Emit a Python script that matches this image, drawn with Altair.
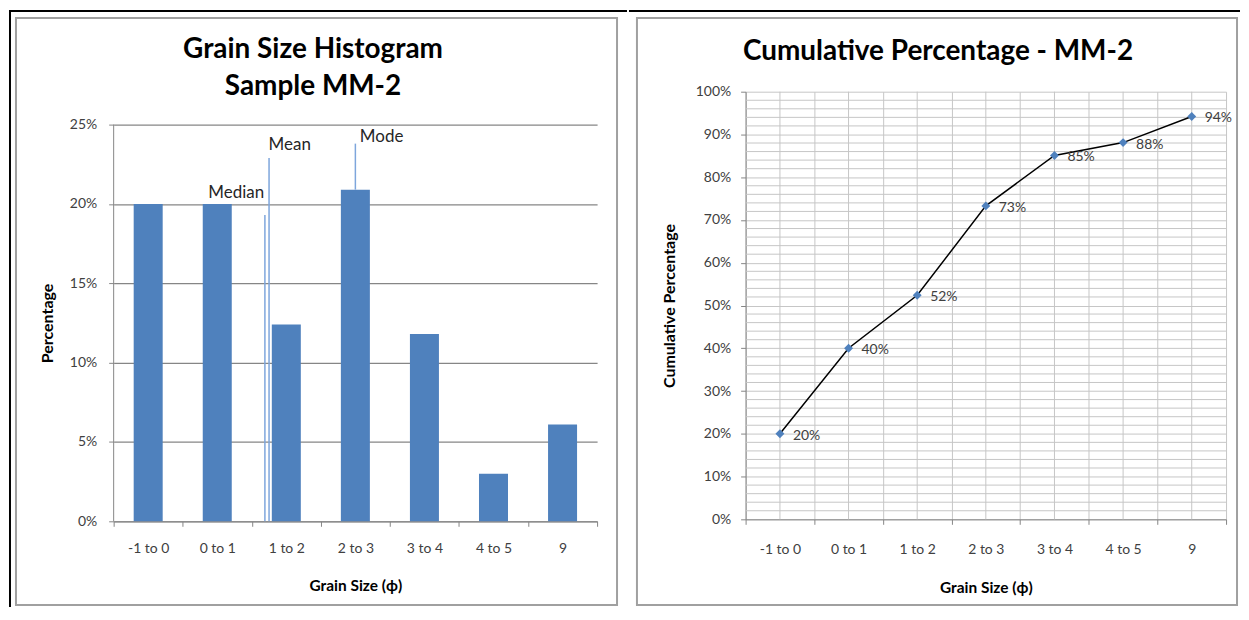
import altair as alt
import pandas as pd

# ---------------- data ----------------
categories = ["-1 to 0", "0 to 1", "1 to 2", "2 to 3", "3 to 4", "4 to 5", "9"]
percent = [0.200, 0.200, 0.124, 0.209, 0.118, 0.030, 0.061]
cumulative = [0.200, 0.400, 0.524, 0.733, 0.851, 0.881, 0.942]

ann_names = ["Median", "Mean", "Mode"]
ann_pos = [1.69, 1.75, 3.0]          # position in category-index units
ann_low = [0.0, 0.0, 0.209]
ann_high = [0.193, 0.229, 0.238]
ann_label_x = [1.275, 2.05, 3.38]
ann_label_y = [0.207, 0.237, 0.242]

left_ticks = [0.0, 0.05, 0.10, 0.15, 0.20, 0.25]
right_ticks = [0.0, 0.1, 0.2, 0.3, 0.4, 0.5, 0.6, 0.7, 0.8, 0.9, 1.0]
right_minor = [0.02, 0.04, 0.06, 0.08, 0.12, 0.14, 0.16, 0.18, 0.22, 0.24, 0.26, 0.28,
               0.32, 0.34, 0.36, 0.38, 0.42, 0.44, 0.46, 0.48, 0.52, 0.54, 0.56, 0.58,
               0.62, 0.64, 0.66, 0.68, 0.72, 0.74, 0.76, 0.78, 0.82, 0.84, 0.86, 0.88,
               0.92, 0.94, 0.96, 0.98]

left_title = ["Grain Size Histogram", "Sample MM-2"]
right_title = "Cumulative Percentage - MM-2"
x_title = "Grain Size (ϕ)"

# ---------------- tables ----------------
hist_df = pd.DataFrame({"cat": categories, "pct": percent})
cum_df = pd.DataFrame({"cat": categories, "cum": cumulative})
ann_df = pd.DataFrame({"name": ann_names, "pos": ann_pos, "low": ann_low, "high": ann_high,
                       "lx": ann_label_x, "ly": ann_label_y})
minor_df = pd.DataFrame({"v": right_minor})
axis_df = pd.DataFrame({"lo": [left_ticks[0]], "hi": [left_ticks[-1]]})
one = pd.DataFrame({"a": [0]})

FONT = "Lato"
BLUE = "#4f81bd"
TXT = "#404040"
AX = "#868686"

LW, LH = 485, 431      # left plot: top of area sits above the 25% line
RW, RH = 482, 429
LTOP = 0.25 * LH / 398  # y-domain max so that 25% lies 398px above the base

# ---------------- left chart ----------------
yscale_l = alt.Scale(domain=[0, LTOP], nice=False)
xband_left = alt.X("cat:N", sort=categories, title=x_title,
                   scale=alt.Scale(type="band", paddingInner=0, paddingOuter=0),
                   axis=alt.Axis(labelAngle=0, tickBand="extent", grid=False, domainColor=AX,
                                 tickColor=AX, tickSize=5, labelPadding=15, labelFont=FONT,
                                 labelFontSize=14, labelColor=TXT, titleFont=FONT,
                                 titleFontSize=15.5, titleFontWeight="bold", titleColor="#000000",
                                 titleY=64, titleBaseline="middle"))
yleft = alt.Y("pct:Q", title="Percentage", scale=yscale_l,
              axis=alt.Axis(values=left_ticks, format=".0%", grid=True, gridColor=AX,
                            gridWidth=1.2, domain=False, tickColor=AX, tickSize=5,
                            labelPadding=12, labelFont=FONT, labelFontSize=14, labelColor=TXT,
                            titleFont=FONT, titleFontSize=16, titleFontWeight="bold",
                            titleColor="#000000", titleX=-66, titleY=232, titleAngle=270,
                            titleAlign="center", titleBaseline="middle"))

bars = alt.Chart(hist_df).mark_bar(color=BLUE, width=alt.RelativeBandSize(0.42)).encode(
    x=xband_left, y=yleft)

yaxis_line = alt.Chart(axis_df).mark_rule(color=AX, strokeWidth=1).encode(
    x=alt.value(0), y=alt.Y("lo:Q", scale=yscale_l), y2="hi:Q")

xq = alt.X("pos:Q", scale=alt.Scale(domain=[-0.5, 6.5], nice=False, zero=False), axis=None)
ann_rules = alt.Chart(ann_df).mark_rule(color="#7ea6dc", strokeWidth=1.5).encode(
    x=xq, y=alt.Y("low:Q", scale=yscale_l), y2="high:Q")
ann_text = alt.Chart(ann_df).mark_text(font=FONT, fontSize=17, color="#262626",
                                       baseline="middle", align="center").encode(
    x=alt.X("lx:Q", scale=alt.Scale(domain=[-0.5, 6.5], nice=False, zero=False), axis=None),
    y=alt.Y("ly:Q", scale=yscale_l), text="name:N")

frame_v = alt.Chart(one).mark_rule(color="#000000", strokeWidth=2, strokeCap="square").encode(
    x=alt.value(-104), y=alt.value(-81), y2=alt.value(516))
frame_top_l = alt.Chart(one).mark_rule(color="#000000", strokeWidth=2, strokeCap="square").encode(
    x=alt.value(-104), x2=alt.value(514), y=alt.value(-81))
panel_l = alt.Chart(one).mark_rect(fill="#ffffff", fillOpacity=0, stroke="#a0a0a0",
                                   strokeWidth=2).encode(
    x=alt.value(-98), x2=alt.value(505), y=alt.value(-74), y2=alt.value(515))
title_l = alt.Chart(one).mark_text(text=left_title, font=FONT, fontSize=28, fontWeight="bold",
                                   color="#000000", align="center", baseline="alphabetic",
                                   lineHeight=37).encode(
    x=alt.value(200), y=alt.value(-34))

left = alt.layer(panel_l, frame_v, frame_top_l, title_l, bars, yaxis_line, ann_rules,
                 ann_text).resolve_scale(x="independent").properties(width=LW, height=LH)

# ---------------- right chart ----------------
GRID = "#c6c6c6"
xband_right = alt.X("cat:N", sort=categories, title=x_title,
                    scale=alt.Scale(type="band", paddingInner=0, paddingOuter=0),
                    axis=alt.Axis(labelAngle=0, tickBand="extent", grid=True, gridColor=GRID,
                                  domainColor=AX, tickColor=AX, tickSize=5, labelPadding=18,
                                  labelFont=FONT, labelFontSize=14, labelColor=TXT,
                                  titleFont=FONT, titleFontSize=15.5, titleFontWeight="bold",
                                  titleColor="#000000", titleY=68, titleBaseline="middle"))
yright_scale = alt.Scale(domain=[0, 1])
yaxis_r = alt.Axis(values=right_ticks, format=".0%", grid=True, gridColor=GRID,
                   domainColor=AX, tickColor=AX, tickSize=5, labelPadding=10,
                   labelFont=FONT, labelFontSize=14, labelColor=TXT,
                   titleFont=FONT, titleFontSize=16, titleFontWeight="bold",
                   titleColor="#000000", titleX=-76, titleY=RH / 2, titleAngle=270,
                   titleAlign="center", titleBaseline="middle")
yright = alt.Y("cum:Q", title="Cumulative Percentage", scale=yright_scale, axis=yaxis_r)

minor = alt.Chart(minor_df).mark_rule(color=GRID, strokeWidth=1).encode(
    y=alt.Y("v:Q", title="Cumulative Percentage", scale=yright_scale, axis=yaxis_r))
center_grid = alt.Chart(cum_df).mark_rule(color=GRID, strokeWidth=1).encode(x=xband_right)
line = alt.Chart(cum_df).mark_line(color="#000000", strokeWidth=1.5).encode(x=xband_right, y=yright)
pts = alt.Chart(cum_df).mark_point(shape="diamond", filled=True, color=BLUE, size=80,
                                   opacity=1).encode(x=xband_right, y=yright)
lbls = alt.Chart(cum_df).mark_text(font=FONT, fontSize=14, color=TXT, align="left",
                                   baseline="middle", dx=13, dy=2).encode(
    x=xband_right, y=yright, text=alt.Text("cum:Q", format=".0%"))

frame_top_r = alt.Chart(one).mark_rule(color="#000000", strokeWidth=2, strokeCap="square").encode(
    x=alt.value(-116), x2=alt.value(495), y=alt.value(-81))
panel_r = alt.Chart(one).mark_rect(fill="#ffffff", fillOpacity=0, stroke="#a0a0a0",
                                   strokeWidth=2).encode(
    x=alt.value(-109), x2=alt.value(493), y=alt.value(-74), y2=alt.value(515))
title_r = alt.Chart(one).mark_text(text=right_title, font=FONT, fontSize=28, fontWeight="bold",
                                   color="#000000", align="center",
                                   baseline="alphabetic").encode(
    x=alt.value(193), y=alt.value(-32))

right = alt.layer(panel_r, frame_top_r, title_r, minor, center_grid, line, pts, lbls).properties(
    width=RW, height=RH)

chart = alt.hconcat(left, right, spacing=0).properties(padding=0, background="#ffffff").configure_view(
    strokeWidth=0)

chart.save("out.html", embed_options={"renderer": "svg", "actions": False})
